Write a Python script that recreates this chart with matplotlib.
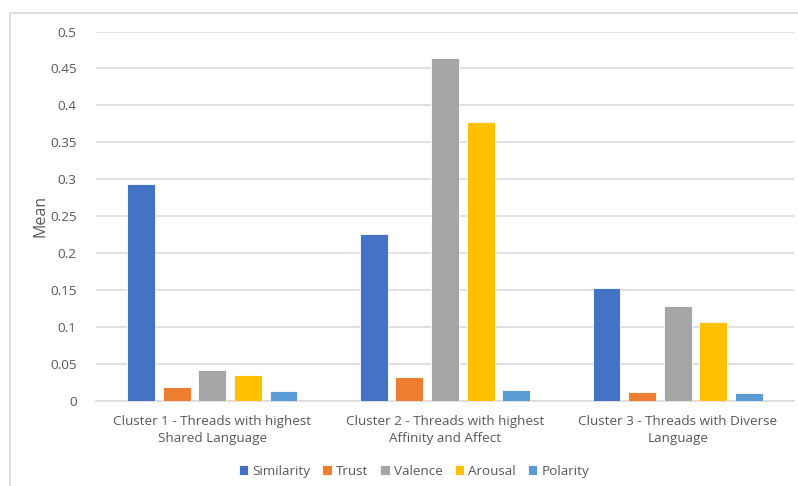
import numpy as np
import matplotlib
matplotlib.use("Agg")
import matplotlib.pyplot as plt
from matplotlib.patches import Rectangle

# Data
clusters = [
    "Cluster 1 - Threads with highest\nShared Language",
    "Cluster 2 - Threads with highest\nAffinity and Affect",
    "Cluster 3 - Threads with Diverse\nLanguage",
]
series = ["Similarity", "Trust", "Valence", "Arousal", "Polarity"]
similarity = [0.294, 0.226, 0.153]
trust = [0.019, 0.032, 0.012]
valence = [0.042, 0.464, 0.128]
arousal = [0.035, 0.377, 0.107]
polarity = [0.013, 0.014, 0.010]
colors = ["#4472C4", "#ED7D31", "#A5A5A5", "#FFC000", "#5B9BD5"]
yticks = [0, 0.05, 0.1, 0.15, 0.2, 0.25, 0.3, 0.35, 0.4, 0.45, 0.5]
ytick_labels = ["0", "0.05", "0.1", "0.15", "0.2", "0.25", "0.3", "0.35", "0.4", "0.45", "0.5"]

TEXT = "#595959"
GRID = "#D9D9D9"

plt.rcParams["font.family"] = ["Open Sans", "DejaVu Sans"]

fig = plt.figure(figsize=(7.98, 4.86), dpi=100)
W, H = 798, 486
ax = fig.add_axes([96 / W, 1 - 400.7 / H, (794 - 96) / W, (400.7 - 31.5) / H])

# outer chart frame (partly cut off at right/bottom like the screenshot)
fig.patches.append(Rectangle((10 / W, -0.1), 1.2, 1 - 13 / H + 0.1,
                             transform=fig.transFigure, fill=False,
                             edgecolor=GRID, linewidth=1.2, zorder=0))

x = np.arange(len(clusters))
pitch = 0.153
width = 0.12
data = [similarity, trust, valence, arousal, polarity]
for i, (name, vals) in enumerate(zip(series, data)):
    offs = (i - 2) * pitch
    ax.bar(x + offs, vals, width=width, color=colors[i], label=name,
           edgecolor="white", linewidth=0.6, zorder=3)

ax.set_xlim(-0.5, 2.5)
ax.set_ylim(0, 0.5)
ax.set_yticks(yticks)
ax.set_yticklabels(ytick_labels)
ax.set_xticks(x)
ax.set_xticklabels(clusters, linespacing=1.4)
ax.yaxis.grid(True, color=GRID, linewidth=1.1, zorder=0)
ax.tick_params(axis="both", length=0, colors=TEXT, labelsize=9.7)
ax.tick_params(axis="y", pad=14)
ax.tick_params(axis="x", pad=10)
for s in ["top", "right", "left"]:
    ax.spines[s].set_visible(False)
ax.spines["bottom"].set_color(GRID)
ax.spines["bottom"].set_linewidth(1.1)

ax.set_ylabel("Mean", color=TEXT, fontsize=11.5, labelpad=1)

fig.legend(loc="center", bbox_to_anchor=(414 / W, 1 - 471 / H), ncol=5,
           frameon=False, fontsize=9.7, handlelength=0.7, handleheight=0.7,
           handletextpad=0.3, columnspacing=0.9, labelcolor=TEXT)

fig.savefig("out.png", dpi=100, facecolor="white")
